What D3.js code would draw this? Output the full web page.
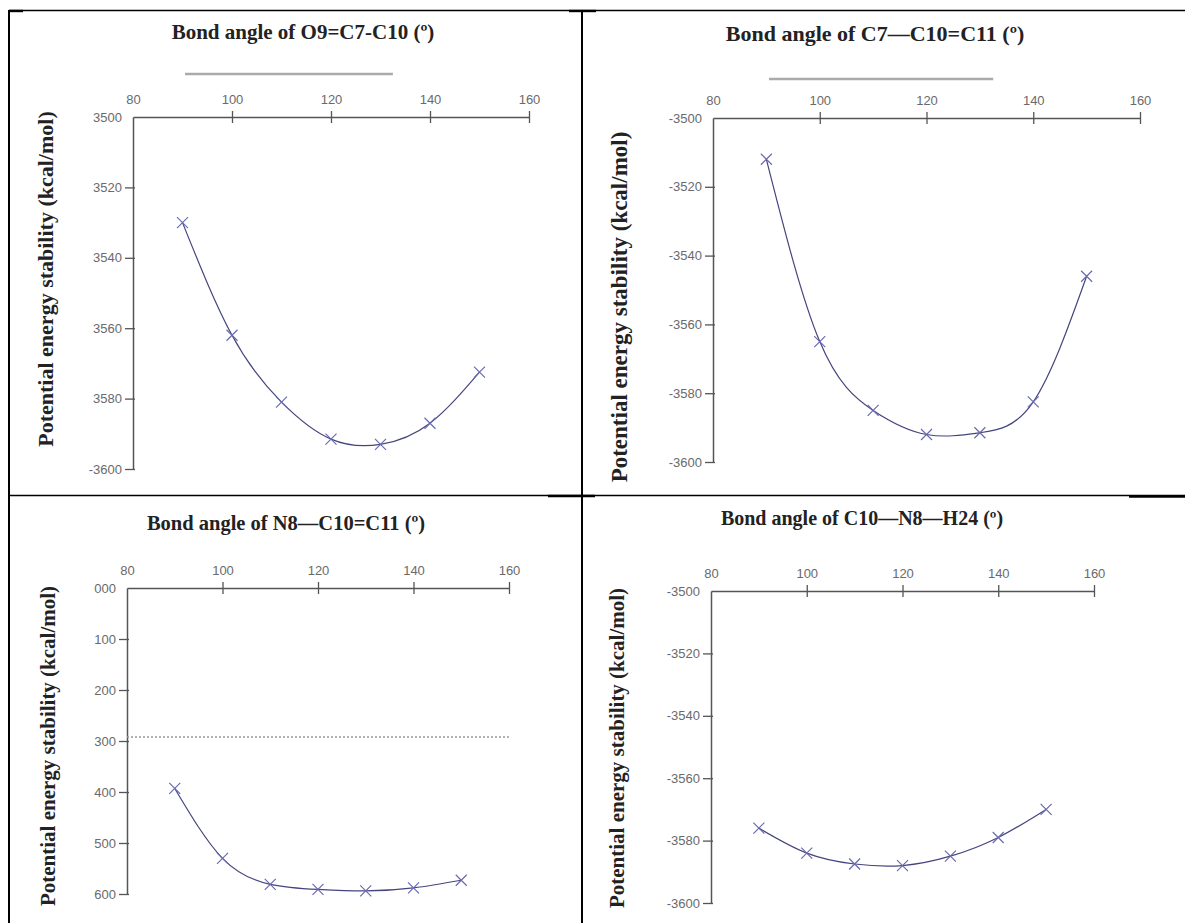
<!DOCTYPE html>
<html>
<head>
<meta charset="utf-8">
<script src="https://cdn.jsdelivr.net/npm/d3@7"></script>
<style>
  html, body { margin: 0; padding: 0; background: #fff; }
  svg { display: block; }
</style>
</head>
<body>
<svg id="chart" width="1185" height="923"></svg>
<script>
// ---------------- DATA ----------------
const angles = [90, 100, 110, 120, 130, 140, 150];
const energyO9C7C10  = [-3530, -3562, -3581, -3591.5, -3593, -3587, -3572.5];
const energyC7C10C11 = [-3512, -3565, -3585, -3592, -3591.5, -3582.5, -3546];
const energyN8C10C11 = [-3393, -3530, -3581, -3591, -3594, -3588, -3573];
const energyC10N8H24 = [-3576, -3584, -3587.5, -3588, -3585, -3579, -3570];

const xTicks = [80, 100, 120, 140, 160];
const xTickLabels = ["80", "100", "120", "140", "160"];

const yTicksNarrow = [-3500, -3520, -3540, -3560, -3580, -3600];
const yTickLabels1 = ["3500", "3520", "3540", "3560", "3580", "-3600"];
const yTickLabels2 = ["-3500", "-3520", "-3540", "-3560", "-3580", "-3600"];
const yTicksWide = [-3000, -3100, -3200, -3300, -3400, -3500, -3600];
const yTickLabels3 = ["000", "100", "200", "300", "400", "500", "600"];
const yTickLabels4 = ["-3500", "-3520", "-3540", "-3560", "-3580", "-3600"];

const titles = [
  "Bond angle of O9=C7-C10 (º)",
  "Bond angle of C7—C10=C11 (º)",
  "Bond angle of N8—C10=C11 (º)",
  "Bond angle of C10—N8—H24 (º)"
];
const yAxisTitle = "Potential energy stability (kcal/mol)";

// decorative grey bar above panels 1 & 2 (in angle units)
const greyBarAngles = [90.5, 132.5];
// dotted reference level in panel 3 (kcal/mol)
const dottedLevel3 = -3292;

// ---------------- LAYOUT ----------------
const panels = [
  { values: energyO9C7C10,  yTicks: yTicksNarrow, yLabels: yTickLabels1, yDomain: [-3500, -3600],
    x0: 133, x1: 529, y0: 117, y1: 469, title: titles[0], tx: 303, ty: 32, tfs: 21, lx: 45, ly: 279, lfs: 22, bar: true, barY: 74 },
  { values: energyC7C10C11, yTicks: yTicksNarrow, yLabels: yTickLabels2, yDomain: [-3500, -3600],
    x0: 713, x1: 1140, y0: 118, y1: 462, title: titles[1], tx: 875, ty: 33, tfs: 22, lx: 619, ly: 307, lfs: 23, bar: true, barY: 79 },
  { values: energyN8C10C11, yTicks: yTicksWide, yLabels: yTickLabels3, yDomain: [-3000, -3600],
    x0: 127, x1: 509, y0: 588, y1: 894, title: titles[2], tx: 286, ty: 523, tfs: 20.5, lx: 48, ly: 746, lfs: 21, dotted: dottedLevel3 },
  { values: energyC10N8H24, yTicks: yTicksNarrow, yLabels: yTickLabels4, yDomain: [-3500, -3600],
    x0: 711, x1: 1094, y0: 591, y1: 903, title: titles[3], tx: 862, ty: 518, tfs: 20, lx: 617, ly: 748, lfs: 21 }
];

const svg = d3.select("#chart");

// ---------------- TABLE BORDERS ----------------
const borders = svg.append("g").attr("stroke", "#000");
borders.append("line").attr("x1", 9).attr("x2", 1185).attr("y1", 10.5).attr("y2", 10.5).attr("stroke-width", 1.3);
borders.append("line").attr("x1", 9).attr("x2", 1185).attr("y1", 495.5).attr("y2", 495.5).attr("stroke-width", 1.3);
borders.append("line").attr("x1", 9).attr("x2", 9).attr("y1", 10).attr("y2", 923).attr("stroke-width", 2);
borders.append("line").attr("x1", 582).attr("x2", 582).attr("y1", 10).attr("y2", 923).attr("stroke-width", 2);
// thicker segments
[[9, 23, 11], [569, 596, 11], [548, 595, 496], [1129, 1185, 496.5]].forEach(s => {
  borders.append("line").attr("x1", s[0]).attr("x2", s[1]).attr("y1", s[2]).attr("y2", s[2]).attr("stroke-width", 2.4);
});

// ---------------- PANELS ----------------
panels.forEach(p => {
  const g = svg.append("g");
  const x = d3.scaleLinear().domain([80, 160]).range([p.x0, p.x1]);
  const y = d3.scaleLinear().domain(p.yDomain).range([p.y0, p.y1]);

  // title
  g.append("text")
    .attr("x", p.tx).attr("y", p.ty)
    .attr("text-anchor", "middle").attr("dominant-baseline", "central")
    .attr("font-family", "Liberation Serif, Times New Roman, serif")
    .attr("font-weight", "bold").attr("font-size", p.tfs).attr("fill", "#222")
    .text(p.title);

  // y-axis title
  g.append("text")
    .attr("transform", `translate(${p.lx},${p.ly}) rotate(-90)`)
    .attr("text-anchor", "middle").attr("dominant-baseline", "central")
    .attr("font-family", "Liberation Serif, Times New Roman, serif")
    .attr("font-weight", "bold").attr("font-size", p.lfs).attr("fill", "#222")
    .text(yAxisTitle);

  // grey bar
  if (p.bar) {
    g.append("line")
      .attr("x1", x(greyBarAngles[0])).attr("x2", x(greyBarAngles[1]))
      .attr("y1", p.barY).attr("y2", p.barY)
      .attr("stroke", "#aaa").attr("stroke-width", 2.5);
  }

  // x axis (top)
  const xAxis = d3.axisTop(x).tickValues(xTicks).tickFormat((d, i) => xTickLabels[i]).tickSizeInner(6).tickSizeOuter(0).tickPadding(7);
  const xg = g.append("g").attr("transform", `translate(0,${p.y0})`).call(xAxis);
  xg.select(".domain").attr("stroke", "#555").attr("stroke-width", 1.5);
  xg.selectAll(".tick line").attr("stroke", "#555").attr("stroke-width", 1.3).attr("y2", -6).attr("y1", 6);
  xg.selectAll(".tick text").attr("font-family", "Liberation Sans, Arial, sans-serif").attr("font-size", 13).attr("fill", "#6a6a6a");
  xg.selectAll(".tick").filter(d => d === 80).select("line").remove();

  // y axis (left)
  const yAxis = d3.axisLeft(y).tickValues(p.yTicks).tickFormat((d, i) => p.yLabels[i]).tickSizeInner(8).tickSizeOuter(0).tickPadding(3);
  const yg = g.append("g").attr("transform", `translate(${p.x0},0)`).call(yAxis);
  yg.select(".domain").attr("stroke", "#555").attr("stroke-width", 1.5);
  yg.selectAll(".tick line").attr("stroke", "#555").attr("stroke-width", 1.3).attr("x1", 2);
  yg.selectAll(".tick text").attr("font-family", "Liberation Sans, Arial, sans-serif").attr("font-size", 13).attr("fill", "#6a6a6a");
  yg.selectAll(".tick").filter(d => d === p.yDomain[0]).select("line").remove();

  // dotted reference line
  if (p.dotted !== undefined) {
    g.append("line")
      .attr("x1", p.x0).attr("x2", x(160))
      .attr("y1", y(p.dotted)).attr("y2", y(p.dotted))
      .attr("stroke", "#999").attr("stroke-width", 1.5).attr("stroke-dasharray", "2,2");
  }

  // curve
  const pts = angles.map((a, i) => [a, p.values[i]]);
  const line = d3.line().x(d => x(d[0])).y(d => y(d[1])).curve(d3.curveNatural);
  g.append("path").datum(pts).attr("d", line)
    .attr("fill", "none").attr("stroke", "#45457e").attr("stroke-width", 1.2);

  // cross markers
  const s = 5.5;
  g.selectAll(".mk").data(pts).join("path")
    .attr("d", d => {
      const cx = x(d[0]), cy = y(d[1]);
      return `M${cx - s},${cy - s}L${cx + s},${cy + s}M${cx - s},${cy + s}L${cx + s},${cy - s}`;
    })
    .attr("stroke", "#6a6ab0").attr("stroke-width", 1.2).attr("fill", "none");
});
</script>
</body>
</html>
